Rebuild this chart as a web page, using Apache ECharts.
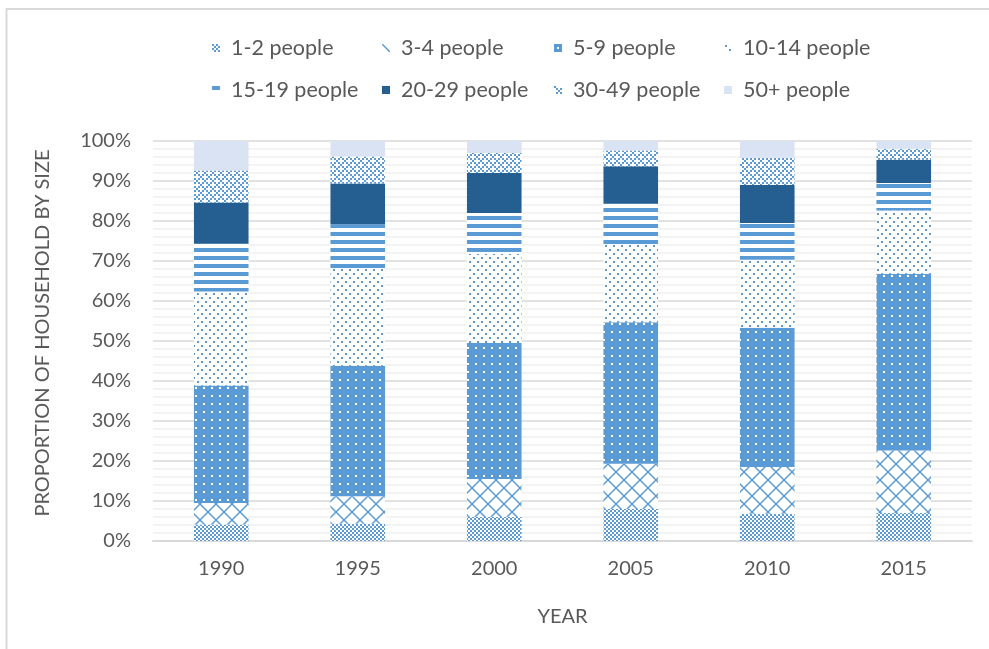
<!DOCTYPE html>
<html>
<head>
<meta charset="utf-8">
<script src="https://cdn.jsdelivr.net/npm/echarts@6/dist/echarts.min.js"></script>
<style>
html,body{margin:0;padding:0;background:#fff;}
#chart{width:989px;height:649px;}
</style>
</head>
<body>
<div id="chart"></div>
<script>
// ---- data (percent of households) ----
const years = ['1990', '1995', '2000', '2005', '2010', '2015'];
const seriesNames = ['1-2 people', '3-4 people', '5-9 people', '10-14 people',
                     '15-19 people', '20-29 people', '30-49 people', '50+ people'];
const people1to2   = [4.1, 4.3, 6.0, 8.0, 6.8, 7.0];
const people3to4   = [5.4, 6.9, 9.5, 11.3, 11.7, 15.6];
const people5to9   = [29.4, 32.6, 34.0, 35.4, 34.8, 44.2];
const people10to14 = [23.5, 24.3, 22.3, 19.4, 17.0, 15.8];
const people15to19 = [11.9, 11.1, 10.2, 10.2, 9.2, 6.9];
const people20to29 = [10.3, 10.2, 10.0, 9.4, 9.5, 5.8];
const people30to49 = [8.0, 6.7, 5.0, 3.9, 6.8, 2.7];
const people50plus = [7.4, 3.9, 3.0, 2.4, 4.2, 2.0];
const yTicks = [0, 10, 20, 30, 40, 50, 60, 70, 80, 90, 100];

const seriesData = [people1to2, people3to4, people5to9, people10to14,
                    people15to19, people20to29, people30to49, people50plus];

// ---- fill patterns ----
const BLUE = '#5b9bd5';
const DARK = '#255e91';
const LIGHT = '#dae3f3';
function pattern(size, draw) {
  const c = document.createElement('canvas');
  c.width = size; c.height = size;
  const ctx = c.getContext('2d');
  ctx.fillStyle = '#ffffff';
  ctx.fillRect(0, 0, size, size);
  draw(ctx);
  return { image: c, repeat: 'repeat' };
}
const fills = [
  // 1-2: small checker board
  pattern(4, ctx => { ctx.fillStyle = BLUE; ctx.fillRect(0,0,2,2); ctx.fillRect(2,2,2,2); }),
  // 3-4: outlined diamond (large)
  pattern(16, ctx => {
    ctx.strokeStyle = BLUE; ctx.lineWidth = 1.5;
    ctx.beginPath(); ctx.moveTo(0,0); ctx.lineTo(16,16); ctx.stroke();
    ctx.beginPath(); ctx.moveTo(16,0); ctx.lineTo(0,16); ctx.stroke();
  }),
  // 5-9: blue with white dots
  pattern(8, ctx => { ctx.fillStyle = BLUE; ctx.fillRect(0,0,8,8); ctx.fillStyle = '#ffffff'; ctx.fillRect(3,3,2,2); }),
  // 10-14: white with blue dots
  pattern(8, ctx => { ctx.fillStyle = BLUE; ctx.fillRect(1,1,2,2); ctx.fillRect(5,5,2,2); }),
  // 15-19: wide horizontal stripes
  pattern(8, ctx => { ctx.fillStyle = BLUE; ctx.fillRect(0,0,8,4); }),
  // 20-29: solid dark
  DARK,
  // 30-49: dotted diamond
  pattern(8, ctx => {
    ctx.fillStyle = BLUE;
    [[0,0],[2,2],[4,4],[6,6],[6,2],[2,6]].forEach(p => ctx.fillRect(p[0], p[1], 2, 2));
  }),
  // 50+: light solid
  LIGHT
];

const FONT = 'Lato, "Noto Sans", sans-serif';
const TXT = '#595959';

const legendCols = [212, 382, 554, 724];
const legendRows = [37, 79];
const legends = seriesNames.map((n, i) => ({
  data: [n],
  left: legendCols[i % 4],
  top: legendRows[Math.floor(i / 4)],
  padding: 0,
  itemWidth: 8,
  itemHeight: 8,
  icon: 'rect',
  selectedMode: false,
  textStyle: { color: TXT, fontSize: 21.5, fontFamily: FONT, padding: [0, 0, 0, 6] }
}));

const chart = echarts.init(document.getElementById('chart'), null, { renderer: 'canvas' });
chart.setOption({
  animation: false,
  backgroundColor: '#ffffff',
  legend: legends,
  graphic: [{
    type: 'rect',
    shape: { x: 6.5, y: 9, width: 2000, height: 2000 },
    style: { fill: 'none', stroke: '#d9d9d9', lineWidth: 2 },
    z: -10
  }],
  grid: { left: 153, right: 17, top: 141, bottom: 108, containLabel: false },
  xAxis: {
    type: 'category',
    data: years,
    name: 'YEAR',
    nameLocation: 'middle',
    nameGap: 66,
    nameTextStyle: { color: TXT, fontSize: 20, fontFamily: FONT },
    axisLine: { lineStyle: { color: '#d9d9d9', width: 2 } },
    axisTick: { show: false },
    axisLabel: { color: TXT, fontSize: 20, fontFamily: FONT, margin: 18 }
  },
  yAxis: {
    type: 'value',
    min: yTicks[0],
    max: yTicks[yTicks.length - 1],
    interval: 10,
    name: 'PROPORTION OF HOUSEHOLD BY SIZE',
    nameLocation: 'middle',
    nameGap: 100,
    nameTextStyle: { color: TXT, fontSize: 20, fontFamily: FONT, padding: [0, 0, 0, 16] },
    axisLine: { show: false },
    axisTick: { show: false },
    axisLabel: { color: TXT, fontSize: 20, fontFamily: FONT, margin: 22, formatter: '{value}%' },
    splitLine: { lineStyle: { color: '#d9d9d9', width: 1.5 } },
    minorTick: { show: false, splitNumber: 5 },
    minorSplitLine: { show: true, lineStyle: { color: '#f0f0f0', width: 1.5 } }
  },
  series: seriesNames.map((n, i) => ({
    name: n,
    type: 'bar',
    stack: 'total',
    barCategoryGap: '60%',
    data: seriesData[i],
    itemStyle: { color: fills[i] },
    emphasis: { disabled: true }
  }))
});
</script>
</body>
</html>
